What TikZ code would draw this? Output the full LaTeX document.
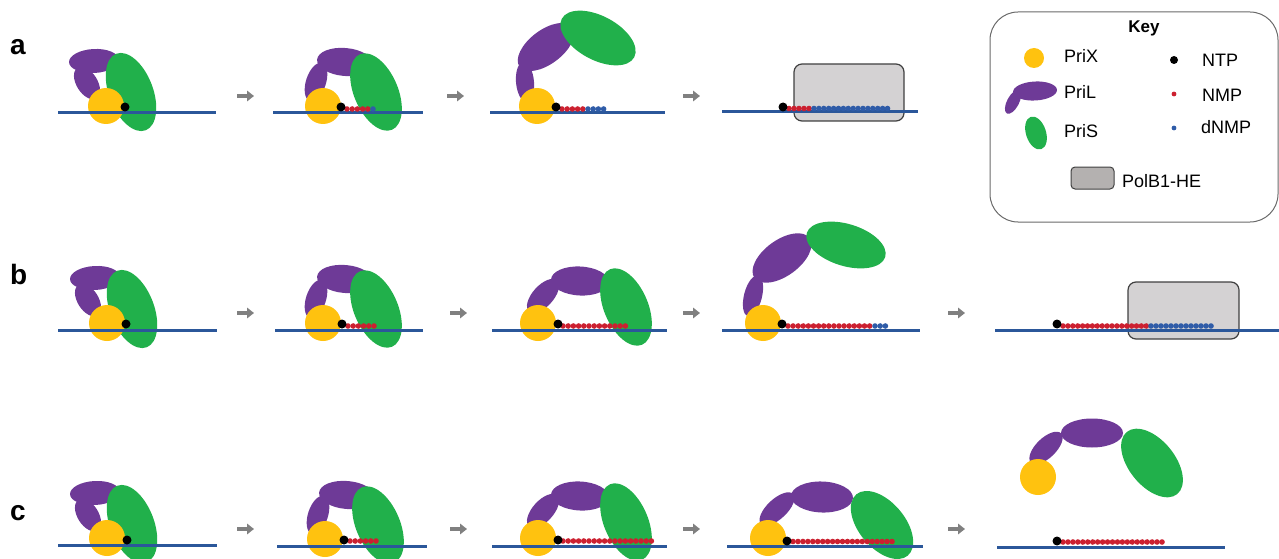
\documentclass[tikz,border=0pt]{standalone}
\usepackage{fontspec}
\setmainfont{Liberation Sans}
\usetikzlibrary{arrows.meta}

\definecolor{prix}{HTML}{FFC20F}
\definecolor{pril}{HTML}{6E3A97}
\definecolor{pris}{HTML}{21B04B}
\definecolor{dnablue}{HTML}{2B579A}
\definecolor{nmpred}{HTML}{CC2030}
\definecolor{dnmpblue}{HTML}{2F5CA8}
\definecolor{polfill}{HTML}{D4D2D3}
\definecolor{polkey}{HTML}{B4B1B0}
\definecolor{poledge}{HTML}{404040}
\definecolor{flowgray}{HTML}{808080}
\definecolor{keyedge}{HTML}{6A6A6A}

\tikzset{
  dna/.style={draw=dnablue, line width=3pt},
  ntp/.style={fill=black},
  flow/.style={draw=flowgray, line width=3.6pt, -{Triangle[length=7pt,width=10.5pt]}},
  polbox/.style={fill=polfill, draw=poledge, line width=1.2pt, rounded corners=8pt},
  keytext/.style={font=\fontsize{18}{20}\selectfont, anchor=base west, inner sep=0pt},
  panellabel/.style={font=\bfseries\fontsize{28}{30}\selectfont, anchor=base west, inner sep=0pt},
}

% filled, rotated ellipse: colour, centre x, centre y, x radius, y radius, angle
\newcommand\blob[6]{\fill[#1, rotate around={#6:(#2,#3)}] (#2,#3) ellipse [x radius=#4pt, y radius=#5pt];}
% row of nucleotides: colour, first x, y, count, spacing
\newcommand\nucrow[5]{\foreach \k in {1,...,#4}{\fill[#1] ({#2+(\k-1)*#5},#3) circle[radius=2.8pt];}}

% primase in the closed conformation (PriX centre given)
\newcommand\closedA[2]{%
  \begin{scope}[shift={(#1,#2)}]
    \blob{pril}{-12}{-45}{25}{12}{3}
    \blob{pril}{-19}{-23}{18}{10.5}{-58}
    \blob{pris}{25}{-14}{41}{22}{-69}
    \fill[prix] (0,0) circle[radius=18pt];
  \end{scope}}
% primase with a short primer
\newcommand\closedB[2]{%
  \begin{scope}[shift={(#1,#2)}]
    \blob{pril}{22}{-44}{28}{14}{-5}
    \blob{pril}{-7}{-24}{20}{10}{72}
    \blob{pris}{53}{-14}{41}{22}{-67}
    \fill[prix] (0,0) circle[radius=18pt];
  \end{scope}}
% primase with a longer primer
\newcommand\closedC[2]{%
  \begin{scope}[shift={(#1,#2)}]
    \blob{pril}{42}{-42}{29}{14.5}{-3}
    \blob{pril}{5}{-27}{21}{10.5}{48}
    \blob{pris}{88}{-16}{41}{22}{-67}
    \fill[prix] (0,0) circle[radius=18pt];
  \end{scope}}

\begin{document}
\begin{tikzpicture}[x=1pt,y=-1pt]
\useasboundingbox (0,0) rectangle (1279,559);

% ---------- panel letters ----------
\node[panellabel] (la) at (10,55) {a};
\node[panellabel] (lb) at (10,284) {b};
\node[panellabel] (lc) at (10,520) {c};

% ---------- row a ----------
\closedA{106}{106}
\draw[dna] (58,113) -- (216,113);
\fill[ntp] (125,107) circle[radius=4.5pt];

\closedB{323}{106}
\draw[dna] (273,113) -- (423,113);
\nucrow{nmpred}{347}{109}{5}{5.2}
\nucrow{dnmpblue}{373}{109}{1}{5.2}
\fill[ntp] (341,107) circle[radius=4.5pt];

\blob{pril}{525}{82}{9}{20}{5}
\blob{pril}{546}{47}{33}{17}{37}
\blob{pris}{598}{38}{41}{22}{-28}
\fill[prix] (537,106) circle[radius=18pt];
\draw[dna] (490,113) -- (665,113);
\nucrow{nmpred}{562}{109}{5}{5.2}
\nucrow{dnmpblue}{588}{109}{4}{5.2}
\fill[ntp] (556,107) circle[radius=4.5pt];

\draw[polbox] (794,64) rectangle (904,121);
\draw[dna] (722,112) -- (918,112);
\nucrow{nmpred}{789}{108.5}{5}{5}
\nucrow{dnmpblue}{814}{108.5}{16}{4.9}
\fill[ntp] (783,107) circle[radius=4.5pt];

% ---------- row b ----------
\closedA{107}{323}
\draw[dna] (58,330) -- (217,330);
\fill[ntp] (126,324) circle[radius=4.5pt];

\closedB{323}{323}
\draw[dna] (275,330) -- (423,330);
\nucrow{nmpred}{348}{326}{6}{5.2}
\fill[ntp] (342,324) circle[radius=4.5pt];

\closedC{538}{323}
\draw[dna] (492,330) -- (667,330);
\nucrow{nmpred}{563}{326}{13}{5.2}
\fill[ntp] (558,324) circle[radius=4.5pt];

\blob{pril}{753}{296}{21}{9}{76}
\blob{pril}{782}{258}{34}{18}{36}
\blob{pris}{846}{245}{41}{21}{-17}
\fill[prix] (763,323) circle[radius=18pt];
\draw[dna] (722,330) -- (920,330);
\nucrow{nmpred}{788}{326}{17}{5.1}
\nucrow{dnmpblue}{875}{326}{3}{5.2}
\fill[ntp] (782,324) circle[radius=4.5pt];

\draw[polbox] (1128,282) rectangle (1239,339);
\draw[dna] (995,330) -- (1279,330);
\nucrow{nmpred}{1063}{326}{18}{4.9}
\nucrow{dnmpblue}{1151}{326}{13}{5}
\fill[ntp] (1057,324) circle[radius=4.5pt];

% ---------- row c ----------
\closedA{107}{538}
\draw[dna] (58,545) -- (217,545);
\fill[ntp] (127,540) circle[radius=4.5pt];

\closedB{325}{539}
\draw[dna] (277,546) -- (427,546);
\nucrow{nmpred}{350}{541}{6}{5.2}
\fill[ntp] (344,540) circle[radius=4.5pt];

\closedC{538}{538}
\draw[dna] (492,546) -- (667,546);
\nucrow{nmpred}{563}{541}{18}{5.2}
\fill[ntp] (558,540) circle[radius=4.5pt];

\blob{pril}{777}{509}{22}{10}{43}
\blob{pril}{822}{497}{31}{15.5}{-2}
\blob{pris}{882}{525}{40}{23}{-50}
\fill[prix] (768,538) circle[radius=18pt];
\draw[dna] (727,546) -- (923,546);
\nucrow{nmpred}{793}{541.5}{21}{4.95}
\fill[ntp] (787,541) circle[radius=4.5pt];

\blob{pril}{1046}{448}{21}{10}{44}
\blob{pril}{1092}{433}{31}{14.5}{0}
\blob{pris}{1152}{463}{40}{23}{-51}
\fill[prix] (1038,477) circle[radius=18pt];
\draw[dna] (997,547) -- (1225,547);
\nucrow{nmpred}{1063}{542}{21}{4.95}
\fill[ntp] (1057,541) circle[radius=4.5pt];

% ---------- step arrows ----------
\foreach \n/\xa/\yy in {a1/237/96, a2/447/96, a3/683/96,
                        b1/237/313, b2/450/313, b3/683/313, b4/948/313,
                        c1/237/529, c2/450/529, c3/683/529, c4/948/529}{
  \coordinate (s\n) at (\xa,\yy);
  \coordinate (e\n) at ({\xa+17},\yy);
  \draw[flow] (s\n) -- (e\n);
}

% ---------- key ----------
\draw[keyedge, line width=1pt, rounded corners=28pt] (990,12) rectangle (1278,222);
\node[font=\bfseries\fontsize{17}{19}\selectfont, anchor=base, inner sep=0pt] (keytitle) at (1144,33) {Key};

\fill[prix] (1034,58) circle[radius=10pt];
\node[keytext] (kprix) at (1064,63) {PriX};
\blob{pril}{1035}{91}{22}{9.5}{3}
\blob{pril}{1013}{102}{13}{6}{62}
\node[keytext] (kpril) at (1064,99) {PriL};
\blob{pris}{1036}{133}{17}{10}{-72}
\node[keytext] (kpris) at (1064,137) {PriS};

\fill[ntp] (1174,60) circle[radius=4pt];
\node[keytext] (kntp) at (1202,67) {NTP};
\fill[nmpred] (1174,94) circle[radius=2.4pt];
\node[keytext] (knmp) at (1202,102) {NMP};
\fill[dnmpblue] (1174,128) circle[radius=2.4pt];
\node[keytext] (kdnmp) at (1201,133) {dNMP};

\draw[fill=polkey, draw=poledge, line width=1pt, rounded corners=4pt] (1071,167) rectangle (1114,189);
\node[keytext] (kpol) at (1122,187) {PolB1-HE};
\end{tikzpicture}
\end{document}
